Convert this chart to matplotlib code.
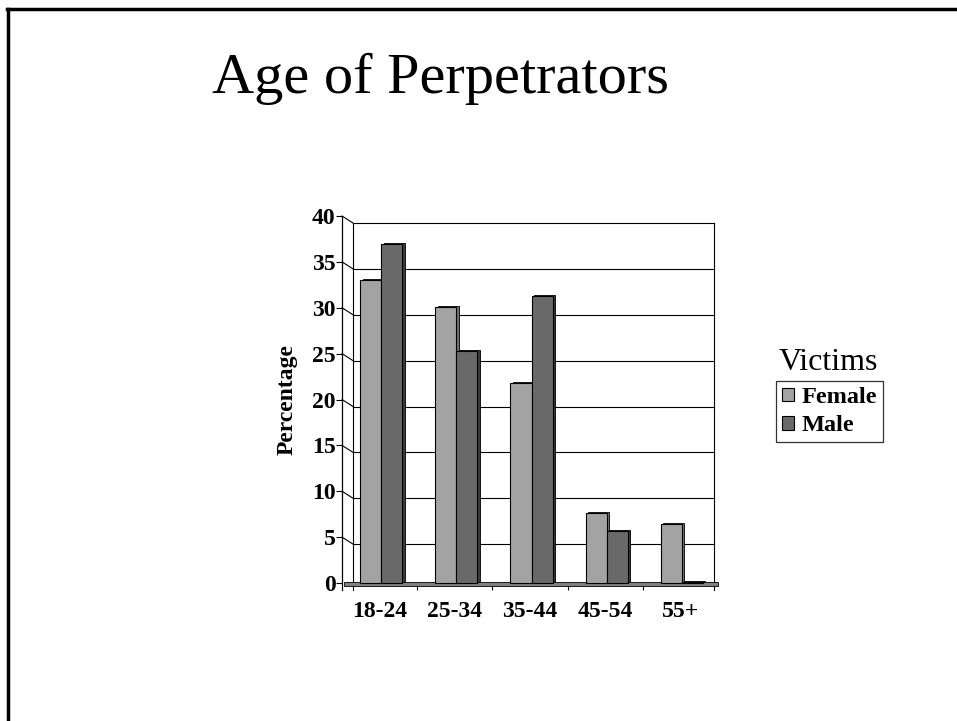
import matplotlib
matplotlib.use('Agg')
from matplotlib import pyplot as plt
from matplotlib.patches import Patch, Rectangle
from matplotlib.transforms import ScaledTranslation
from matplotlib.lines import Line2D
import numpy as np

age_groups = ['18-24', '25-34', '35-44', '45-54', '55+']
female = [33.0, 30.1, 21.8, 7.6, 6.4]
male = [37.0, 25.3, 31.3, 5.7, 0.1]
y_ticks = [0, 5, 10, 15, 20, 25, 30, 35, 40]

FEMALE_COLOR = '#a3a3a3'
MALE_COLOR = '#696969'
FONT = 'Liberation Serif'

plt.rcParams['font.family'] = FONT

fig = plt.figure(figsize=(9.57, 7.21), dpi=100)
W, H = 957, 721

# front axis: 0 at y=583px, 40 at y=216px, x from 342 to 718 px
ax = fig.add_axes([342 / W, (H - 583) / H, 376 / W, 367 / H])
ax.set_xlim(0, 5)
ax.set_ylim(0, 40)
for side in ['top', 'right', 'bottom']:
	ax.spines[side].set_visible(False)
ax.spines['left'].set_linewidth(0.9)
ax.spines['left'].set_bounds(-0.8, 40)


def px(dx, dy):
	return ScaledTranslation(dx / 100, dy / 100, fig.dpi_scale_trans)


back = ax.transData + px(11, -7)
back_right = 4.8

# back wall gridlines and connectors to front ticks
for v in y_ticks[1:]:
	ax.plot([0, back_right], [v, v], color='black', lw=0.8, transform=back, zorder=1, clip_on=False)
	ax.annotate('', xy=(0, v), xycoords=back, xytext=(0, v), textcoords='data',
				arrowprops=dict(arrowstyle='-', lw=0.8, color='black', shrinkA=0, shrinkB=0))
ax.plot([0, 0], [0, 40], color='black', lw=0.8, transform=back, zorder=1, clip_on=False)
ax.plot([back_right, back_right], [0, 40], color='black', lw=0.8, transform=back, zorder=1, clip_on=False)

# floor
ax.add_patch(Rectangle((0.03, -0.3), 4.97, 0.45, facecolor='#808080', edgecolor='black',
					   lw=0.6, clip_on=False, zorder=2))

x = np.arange(len(age_groups))
bw = 0.28
fx = x + 0.52 - bw
mx = x + 0.52

# side faces (3d look)
ax.bar(fx, female, bw, align='edge', color='#707070', edgecolor='black', lw=0.6,
	   transform=ax.transData + px(2.5, 1), zorder=3, clip_on=False)
ax.bar(mx, male, bw, align='edge', color='#3a3a3a', edgecolor='black', lw=0.6,
	   transform=ax.transData + px(2.5, 1), zorder=3, clip_on=False)
ax.bar(fx, female, bw, align='edge', color=FEMALE_COLOR, edgecolor='black', lw=0.8, zorder=4, clip_on=False)
ax.bar(mx, male, bw, align='edge', color=MALE_COLOR, edgecolor='black', lw=0.8, zorder=4, clip_on=False)

ax.set_yticks(y_ticks)
ax.set_yticklabels([str(v) for v in y_ticks], fontsize=17, fontweight='bold')
ax.tick_params(axis='y', length=4, width=0.8, pad=0.5)

ax.set_xticks([1, 2, 3, 4])
ax.set_xticklabels([])
ax.tick_params(axis='x', length=5, width=0.8, direction='out', pad=0)
ax.xaxis.set_ticks_position('bottom')
ax.set_xticks(x + 0.5, minor=True)
ax.set_xticklabels(age_groups, minor=True, fontsize=17, fontweight='bold')
ax.tick_params(axis='x', which='minor', length=0, pad=13)
ax.patch.set_visible(False)

fig.text(287 / W, 1 - 400 / H, 'Percentage', rotation=90, ha='center', va='center',
		 fontsize=17, fontweight='bold')

# title
fig.text(440 / W, 1 - 93 / H, 'Age of Perpetrators', ha='center', va='baseline', fontsize=42)

# legend
fig.text(779 / W, 1 - 370 / H, 'Victims', ha='left', va='baseline', fontsize=23)
handles = [Patch(facecolor=FEMALE_COLOR, edgecolor='black', lw=0.8),
		   Patch(facecolor=MALE_COLOR, edgecolor='black', lw=0.8)]
leg = fig.legend(handles, ['Female', 'Male'], loc='upper left', bbox_to_anchor=(776 / W, 1 - 381 / H),
				 prop={'family': FONT, 'weight': 'bold', 'size': 17.5}, frameon=True, fancybox=False,
				 handlelength=0.5, handleheight=0.5, handletextpad=0.3, labelspacing=0.3,
				 borderpad=0.25, borderaxespad=0)
leg.get_frame().set_edgecolor('black')
leg.get_frame().set_linewidth(0.9)

# slide border (top and left)
fig.add_artist(Line2D([7 / W, 1], [1 - 9 / H, 1 - 9 / H], color='black', lw=2.5))
fig.add_artist(Line2D([8 / W, 8 / W], [0, 1 - 9 / H], color='black', lw=2.5))

fig.savefig('out.png', dpi=100)
